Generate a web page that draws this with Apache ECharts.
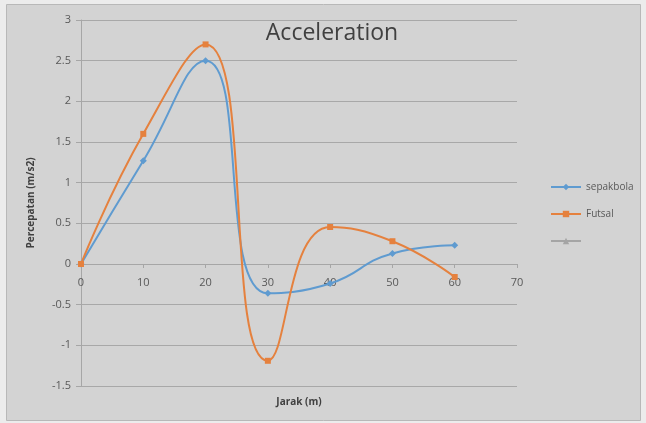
<!DOCTYPE html>
<html>
<head>
<meta charset="utf-8">
<script src="https://cdn.jsdelivr.net/npm/echarts@6/dist/echarts.min.js"></script>
<style>
html,body{margin:0;padding:0;background:#ececec;}
#c{width:646px;height:423px;}
</style>
</head>
<body>
<div id="c"></div>
<script>
var jarak = [0, 10, 20, 30, 40, 50, 60];
var sepakbola = [0, 1.27, 2.5, -0.36, -0.24, 0.13, 0.23];
var futsal = [0, 1.6, 2.7, -1.19, 0.455, 0.28, -0.16];
var seriesNames = ['sepakbola', 'Futsal', ' '];

function pairs(xs, ys) { return xs.map(function (x, i) { return [x, ys[i]]; }); }

var font = 'Open Sans';
var chart = echarts.init(document.getElementById('c'));
chart.setOption({
  backgroundColor: 'transparent',
  animation: false,
  graphic: [{
    type: 'rect', z: -10, silent: true,
    shape: { x: 6.5, y: 4.5, width: 634, height: 416 },
    style: { fill: '#d3d3d3', stroke: '#b8b8b8', lineWidth: 1 }
  }],
  title: {
    text: 'Acceleration', left: 327, top: 17, textAlign: 'center',
    textStyle: { fontFamily: font, fontSize: 23, fontWeight: 'normal', color: '#404040' }
  },
  legend: {
    orient: 'vertical', left: 545, top: 177, itemGap: 17, itemWidth: 30, itemHeight: 8,
    data: seriesNames,
    textStyle: { fontFamily: font, fontSize: 10, color: '#595959' }
  },
  grid: { left: 81, right: 129, top: 20, bottom: 37, containLabel: false, outerBoundsMode: 'none' },
  xAxis: {
    type: 'value', min: 0, max: 70, interval: 10,
    position: 'bottom', offset: -122,
    name: 'Jarak (m)', nameLocation: 'middle', nameGap: 133,
    nameTextStyle: { fontFamily: font, fontSize: 10, fontWeight: 'bold', color: '#404040' },
    axisLine: { onZero: false, lineStyle: { color: '#a6a6a6' } },
    axisTick: { show: true, length: 4, lineStyle: { color: '#a6a6a6' } },
    axisLabel: { fontFamily: font, fontSize: 11, color: '#595959', margin: 13 },
    splitLine: { show: false }
  },
  yAxis: {
    type: 'value', min: -1.5, max: 3, interval: 0.5,
    name: 'Percepatan (m/s2)', nameLocation: 'middle', nameGap: 45, nameRotate: 90,
    nameTextStyle: { fontFamily: font, fontSize: 10, fontWeight: 'bold', color: '#404040' },
    axisLine: { show: true, onZero: false, lineStyle: { color: '#a6a6a6' } },
    axisTick: { show: true, length: 5, lineStyle: { color: '#a6a6a6' } },
    axisLabel: { fontFamily: font, fontSize: 11, color: '#595959', margin: 10 },
    splitLine: { show: true, lineStyle: { color: '#a8a8a8', width: 1 } }
  },
  series: [
    {
      name: seriesNames[0], type: 'line', smooth: 0.5, data: pairs(jarak, sepakbola),
      symbol: 'diamond', symbolSize: 7,
      lineStyle: { color: '#5f9bd0', width: 2 }, itemStyle: { color: '#5f9bd0' }
    },
    {
      name: seriesNames[1], type: 'line', smooth: 0.5, data: pairs(jarak, futsal),
      symbol: 'rect', symbolSize: 6,
      lineStyle: { color: '#e5813e', width: 2 }, itemStyle: { color: '#e5813e' }
    },
    {
      name: seriesNames[2], type: 'line', data: [],
      symbol: 'triangle', symbolSize: 6,
      lineStyle: { color: '#a5a5a5', width: 2 }, itemStyle: { color: '#a5a5a5' }
    }
  ]
});
</script>
</body>
</html>
